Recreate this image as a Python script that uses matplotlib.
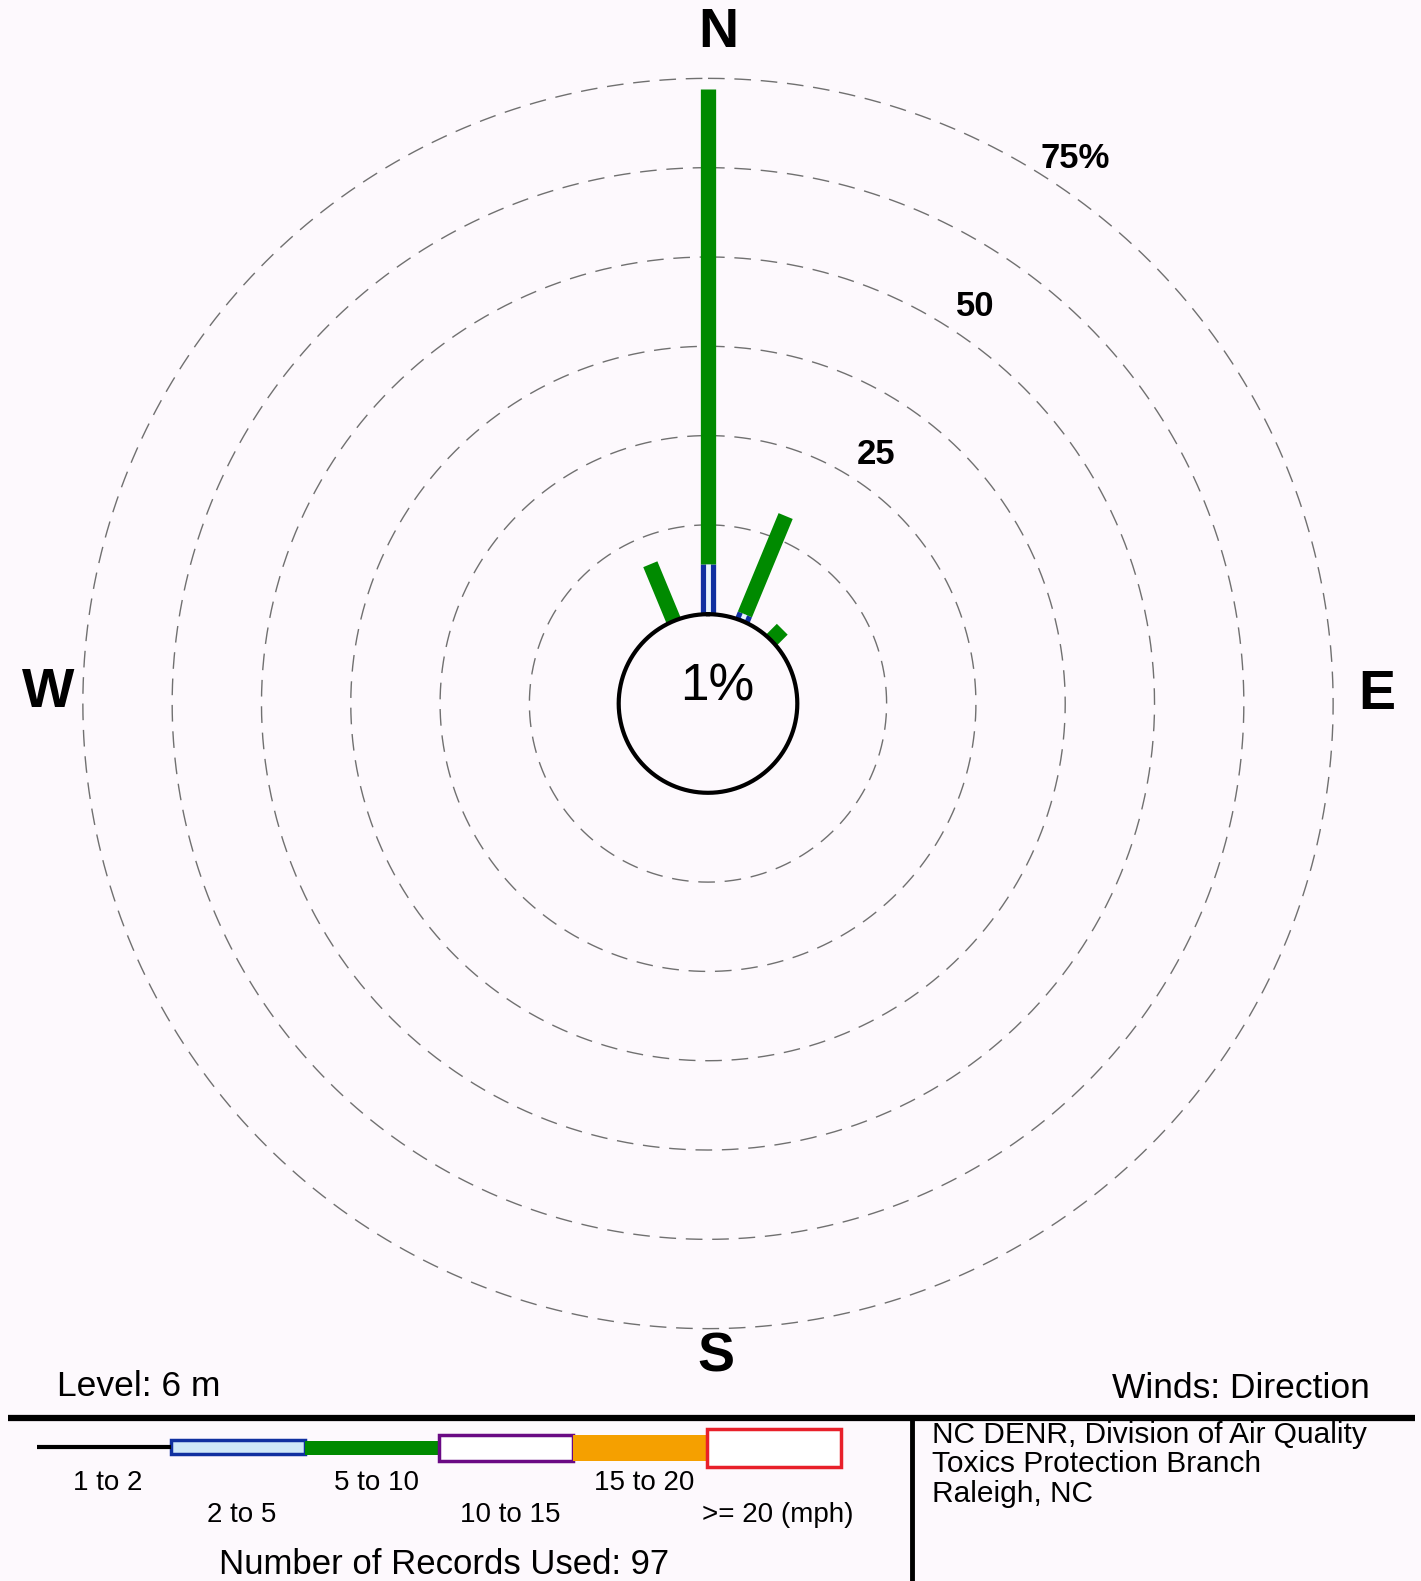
import numpy as np
import matplotlib
matplotlib.use("Agg")
import matplotlib.pyplot as plt
from matplotlib.patches import Rectangle

plt.rcParams['font.family'] = ['Liberation Sans', 'DejaVu Sans']

# wind rose data (percent of records)
directions = ['NNW', 'N', 'NNE', 'NE']
dir_deg = [337.5, 0.0, 22.5, 45.0]
pct_2to5 = [0.0, 7.0, 1.0, 0.0]
pct_5to10 = [8.6, 66.5, 14.9, 2.2]
calm_pct = 1
ring_pcts = [12.5, 25, 37.5, 50, 62.5, 75]
ring_labels = {25: '25', 50: '50', 75: '75%'}
n_records = 97

# legend classes
speed_labels = ['1 to 2', '2 to 5', '5 to 10', '10 to 15', '15 to 20', '>= 20 (mph)']
speed_colors = ['#000000', '#1030a0', '#008a00', '#6a0a84', '#f5a000', '#e8202a']

W, H = 1421, 1581
bg = '#fdf9fd'
offset = 12.5   # radius of calm circle in percent units
rmax = 90.0
cx, cy = 708, 703.5
rad_px = 643

fig = plt.figure(figsize=(W / 100, H / 100), dpi=100, facecolor=bg)

# full figure axes in pixel coords for the frame, legend and labels
lax = fig.add_axes([0, 0, 1, 1])
lax.set_xlim(0, W)
lax.set_ylim(H, 0)
lax.axis('off')

ax = fig.add_axes([(cx - rad_px) / W, (H - cy - rad_px) / H, 2 * rad_px / W, 2 * rad_px / H],
                  projection='polar')
ax.set_theta_zero_location('N')
ax.set_theta_direction(-1)
ax.set_ylim(0, rmax)
ax.set_xticks([])
ax.set_yticks([])
ax.spines['polar'].set_visible(False)
ax.patch.set_alpha(0)

th = np.linspace(0, 2 * np.pi, 721)
for p in ring_pcts:
    ax.plot(th, np.full_like(th, offset + p), color='#707070', lw=1.0,
            linestyle=(0, (12, 7)), zorder=1)
    if p in ring_labels:
        ax.text(np.radians(34), offset + p + 4.5, ring_labels[p], fontsize=25,
                fontweight='bold', ha='center', va='center')

# bars
lw_bar = 11
for d, b, g in zip(dir_deg, pct_2to5, pct_5to10):
    t = np.radians(d)
    r0 = offset
    if b > 0:
        ax.plot([t, t], [r0, r0 + b], color=speed_colors[1], lw=lw_bar,
                solid_capstyle='butt', zorder=3)
        ax.plot([t, t], [r0 + 0.3, r0 + b], color='#e8f4fc', lw=3.5,
                solid_capstyle='butt', zorder=4)
        r0 += b
    if g > 0:
        ax.plot([t, t], [r0, r0 + g], color=speed_colors[2], lw=lw_bar,
                solid_capstyle='butt', zorder=3)

# calm circle
ax.plot(th, np.full_like(th, offset), color='black', lw=3, zorder=5)

# labels in pixel coords
lax.text(717, 687, '%d%%' % calm_pct, fontsize=37, ha='center', va='center')
for s, x, y in [('N', 718, 33), ('S', 716, 1357), ('W', 48, 693), ('E', 1377, 695)]:
    lax.text(x, y, s, fontsize=40, fontweight='bold', ha='center', va='center')

lax.text(57, 1387, 'Level: 6 m', fontsize=25.5, ha='left', va='center')
lax.text(1370, 1389, 'Winds: Direction', fontsize=25.5, ha='right', va='center')

# frame lines
lax.plot([8, 1415], [1418, 1418], color='black', lw=4.5, solid_capstyle='butt')
lax.plot([912, 912], [1418, H], color='black', lw=3.5, solid_capstyle='butt')

# legend bars
x0, seg = 37, 134
heights = [0, 14, 14, 26, 26, 38]
for i, (lab, col) in enumerate(zip(speed_labels, speed_colors)):
    xl = x0 + seg * i
    if i == 0:
        lax.plot([xl, xl + seg], [1447, 1447], color=col, lw=3, solid_capstyle='butt')
    elif i == 1:
        lax.add_patch(Rectangle((xl, 1447 - heights[i] / 2), seg, heights[i],
                                facecolor='#cfe8f8', edgecolor=col, lw=2.5))
    elif i in (2, 4):
        lax.add_patch(Rectangle((xl, 1448 - heights[i] / 2), seg, heights[i],
                                facecolor=col, edgecolor='none'))
    else:
        lax.add_patch(Rectangle((xl, 1448 - heights[i] / 2), seg, heights[i],
                                facecolor='white', edgecolor=col, lw=2.5))
    ty = 1483 if i % 2 == 0 else 1515
    tx = xl + seg / 2 + 4
    lax.text(tx, ty, lab, fontsize=20, ha='center', va='center')

lax.text(444, 1564, 'Number of Records Used: %d' % n_records, fontsize=25,
         ha='center', va='center')

lax.text(932, 1435, 'NC DENR, Division of Air Quality', fontsize=21.5, ha='left', va='center')
lax.text(932, 1464, 'Toxics Protection Branch', fontsize=21.5, ha='left', va='center')
lax.text(932, 1494, 'Raleigh, NC', fontsize=21.5, ha='left', va='center')

fig.savefig('out.png', dpi=100, facecolor=bg)
